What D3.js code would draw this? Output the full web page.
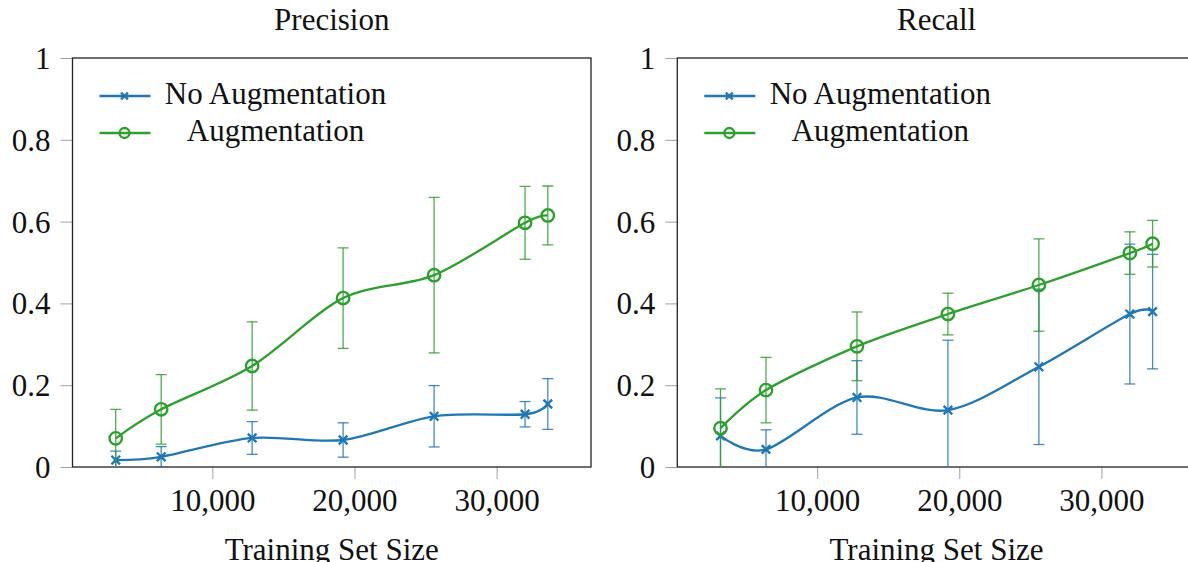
<!DOCTYPE html>
<html>
<head>
<meta charset="utf-8">
<script src="https://cdn.jsdelivr.net/npm/d3@7"></script>
<style>
    body { margin: 0; background: #fff; }
    svg { display: block; font-family: "Liberation Serif", "DejaVu Serif", serif; }
</style>
</head>
<body>
<svg id="chart" width="1188" height="562"></svg>
<script>
// training set sizes (x values)
const sizes = [3200, 6400, 12800, 19200, 25600, 32000, 33600];
const xTicks = [10000, 20000, 30000];
const yTicks = [0, 0.2, 0.4, 0.6, 0.8, 1];

// precision
const precisionNoAug = [0.017, 0.025, 0.071, 0.066, 0.124, 0.129, 0.154];
const precisionNoAugErr = [0.022, 0.025, 0.040, 0.042, 0.075, 0.031, 0.062];
const precisionAug = [0.070, 0.141, 0.247, 0.413, 0.469, 0.597, 0.615];
const precisionAugErr = [0.071, 0.085, 0.108, 0.123, 0.190, 0.089, 0.072];

// recall
const recallNoAug = [0.076, 0.043, 0.170, 0.139, 0.245, 0.374, 0.380];
const recallNoAugErr = [0.093, 0.048, 0.090, 0.171, 0.190, 0.171, 0.140];
const recallAug = [0.095, 0.188, 0.295, 0.374, 0.445, 0.523, 0.546];
const recallAugErr = [0.096, 0.080, 0.084, 0.051, 0.113, 0.052, 0.057];

const seriesNames = ["No Augmentation", "Augmentation"];
const blue = "#1f77b4";
const green = "#2ca02c";
const fontSize = 31;

const svg = d3.select("#chart");

function panel({
    title,
    noAug, noAugErr, aug, augErr,
    left = 72.5,       // left edge of the axis box
    width = 518.5,     // box width
    top = 58,          // y of value 1
    bottom = 467,      // y of value 0
    id
}) {
    // pgfplots style: enlarge x limits by 10% each side
    const [x0, x1] = d3.extent(sizes);
    const pad = (x1 - x0) * 0.1;
    const x = d3.scaleLinear([x0 - pad, x1 + pad], [left, left + width]);
    const y = d3.scaleLinear([0, 1], [bottom, top]);

    const g = svg.append("g");

    g.append("clipPath").attr("id", "clip" + id)
        .append("rect")
        .attr("x", left).attr("y", top)
        .attr("width", width).attr("height", bottom - top);

    // tick marks outside the box
    const xAxis = d3.axisBottom(x).tickValues(xTicks).tickSize(12).tickFormat(d3.format(","));
    const yAxis = d3.axisLeft(y).tickValues(yTicks).tickSize(12)
        .tickFormat(d => d === 0 || d === 1 ? d3.format("d")(d) : d3.format(".1f")(d));

    g.append("g")
        .attr("transform", `translate(0,${bottom})`)
        .call(xAxis)
        .attr("font-family", null).attr("font-size", fontSize)
        .call(a => a.select(".domain").remove())
        .call(a => a.selectAll(".tick line").attr("stroke", "#a0a0a0"))
        .call(a => a.selectAll(".tick text")
            .attr("fill", "#111").attr("y", 44).attr("dy", 0));

    g.append("g")
        .attr("transform", `translate(${left},0)`)
        .call(yAxis)
        .attr("font-family", null).attr("font-size", fontSize)
        .call(a => a.select(".domain").remove())
        .call(a => a.selectAll(".tick line").attr("stroke", "#a0a0a0"))
        .call(a => a.selectAll(".tick text")
            .attr("fill", "#111").attr("x", -22).attr("dy", "0.34em"));

    g.append("rect")
        .attr("x", left).attr("y", top)
        .attr("width", width).attr("height", bottom - top)
        .attr("fill", "none").attr("stroke", "#222").attr("stroke-width", 1.3);

    // title and x label
    g.append("text")
        .attr("x", left + width / 2).attr("y", 30)
        .attr("text-anchor", "middle").attr("font-size", fontSize).attr("fill", "#111")
        .text(title);

    g.append("text")
        .attr("x", left + width / 2).attr("y", 560)
        .attr("text-anchor", "middle").attr("font-size", fontSize).attr("fill", "#111")
        .text("Training Set Size");

    const line = d3.line()
        .curve(d3.curveCardinal.tension(0.08))
        .x((d, i) => x(sizes[i]))
        .y(d => y(d));

    const series = [
        { values: noAug, err: noAugErr, color: blue, mark: "x" },
        { values: aug, err: augErr, color: green, mark: "o" }
    ];

    series.forEach(s => {
        const sg = g.append("g");

        sg.append("path")
            .attr("clip-path", `url(#clip${id})`)
            .attr("fill", "none")
            .attr("stroke", s.color)
            .attr("stroke-width", 2.3)
            .attr("d", line(s.values));

        const bars = sg.append("g")
            .attr("clip-path", `url(#clip${id})`)
            .attr("stroke", s.color)
            .attr("stroke-opacity", 0.85)
            .attr("stroke-width", 1.3)
            .selectAll("g")
            .data(s.values)
            .join("g");

        bars.append("line")
            .attr("x1", (d, i) => x(sizes[i])).attr("x2", (d, i) => x(sizes[i]))
            .attr("y1", (d, i) => y(d - s.err[i])).attr("y2", (d, i) => y(d + s.err[i]));
        bars.append("line")
            .attr("x1", (d, i) => x(sizes[i]) - 5.5).attr("x2", (d, i) => x(sizes[i]) + 5.5)
            .attr("y1", (d, i) => y(d + s.err[i])).attr("y2", (d, i) => y(d + s.err[i]));
        bars.append("line")
            .attr("x1", (d, i) => x(sizes[i]) - 5.5).attr("x2", (d, i) => x(sizes[i]) + 5.5)
            .attr("y1", (d, i) => y(d - s.err[i])).attr("y2", (d, i) => y(d - s.err[i]));

        s.values.forEach((d, i) => drawMark(sg, s.mark, x(sizes[i]), y(d), s.color, 1));
    });

    // legend, no frame
    series.forEach((s, k) => {
        const ly = 96 + k * 37;
        g.append("line")
            .attr("x1", left + 27).attr("x2", left + 78)
            .attr("y1", ly).attr("y2", ly)
            .attr("stroke", s.color).attr("stroke-width", 2.3);
        drawMark(g, s.mark, left + 52, ly, s.color, 0.8);
        g.append("text")
            .attr("x", left + 203).attr("y", ly + 8)
            .attr("text-anchor", "middle").attr("font-size", fontSize).attr("fill", "#111")
            .text(seriesNames[k]);
    });
}

function drawMark(sel, mark, cx, cy, color, k) {
    if (mark === "o") {
        sel.append("circle")
            .attr("cx", cx).attr("cy", cy).attr("r", 6.2 * k)
            .attr("fill", "none").attr("stroke", color).attr("stroke-width", 2.4);
    } else {
        const r = 4.3 * k;
        sel.append("path")
            .attr("d", `M${cx - r},${cy - r}L${cx + r},${cy + r}M${cx - r},${cy + r}L${cx + r},${cy - r}`)
            .attr("stroke", color).attr("stroke-width", 2.4);
    }
}

panel({ title: "Precision", noAug: precisionNoAug, noAugErr: precisionNoAugErr, aug: precisionAug, augErr: precisionAugErr, left: 72.5, id: "p" });
panel({ title: "Recall", noAug: recallNoAug, noAugErr: recallNoAugErr, aug: recallAug, augErr: recallAugErr, left: 677.3, id: "r" });
</script>
</body>
</html>
